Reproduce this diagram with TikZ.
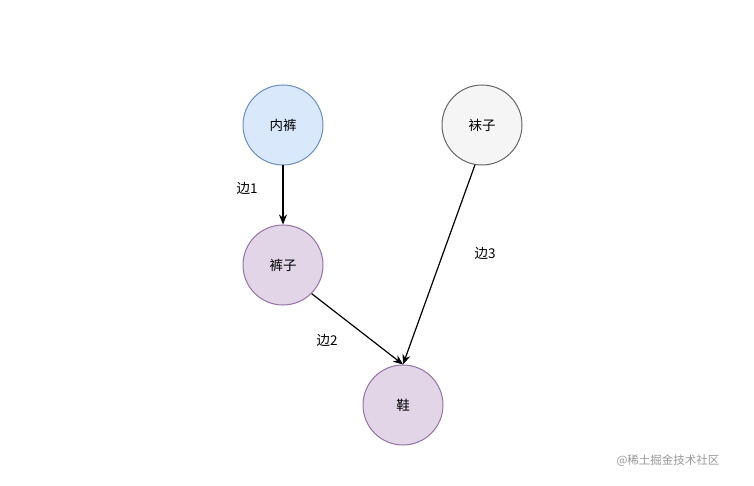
\documentclass[tikz,border=0pt]{standalone}
\usepackage{fontspec}
\newfontfamily\cjk{Noto Sans CJK SC}
\usetikzlibrary{arrows.meta}
\definecolor{bfill}{HTML}{DAE8FC}\definecolor{bline}{HTML}{6C8EBF}
\definecolor{gfill}{HTML}{F5F5F5}\definecolor{gline}{HTML}{666666}
\definecolor{pfill}{HTML}{E1D5E7}\definecolor{pline}{HTML}{9673A6}
\begin{document}
\begin{tikzpicture}[x=1pt,y=-1pt,font=\cjk\fontsize{13.5}{16}\selectfont,
 circ/.style={circle,minimum size=80pt,inner sep=0pt,line width=1pt},
 edge/.style={-{Stealth[length=10pt,width=8pt]},line width=1.2pt},
 lbl/.style={inner sep=0pt}]
\useasboundingbox[fill=white] (0,0) rectangle (754,486);
\node[circ,draw=bline,fill=bfill] (a) at (283,125) {内裤};
\node[circ,draw=gline,fill=gfill] (b) at (482,125) {袜子};
\node[circ,draw=pline,fill=pfill] (c) at (283,265) {裤子};
\node[circ,draw=pline,fill=pfill] (d) at (403,405) {鞋};
\draw[edge] (a) -- (c);
\draw[edge] (c.-45) -- (d.north);
\draw[edge] (b.-100) -- (d.north);
\node[lbl] (l1) at (247,188) {边1};
\node[lbl] (l2) at (327,340) {边2};
\node[lbl] (l3) at (485,253) {边3};
\node[lbl,text=gray!80,font=\cjk\fontsize{11.5}{14}\selectfont] (w) at (668,461) {@稀土掘金技术社区};
\end{tikzpicture}
\end{document}
